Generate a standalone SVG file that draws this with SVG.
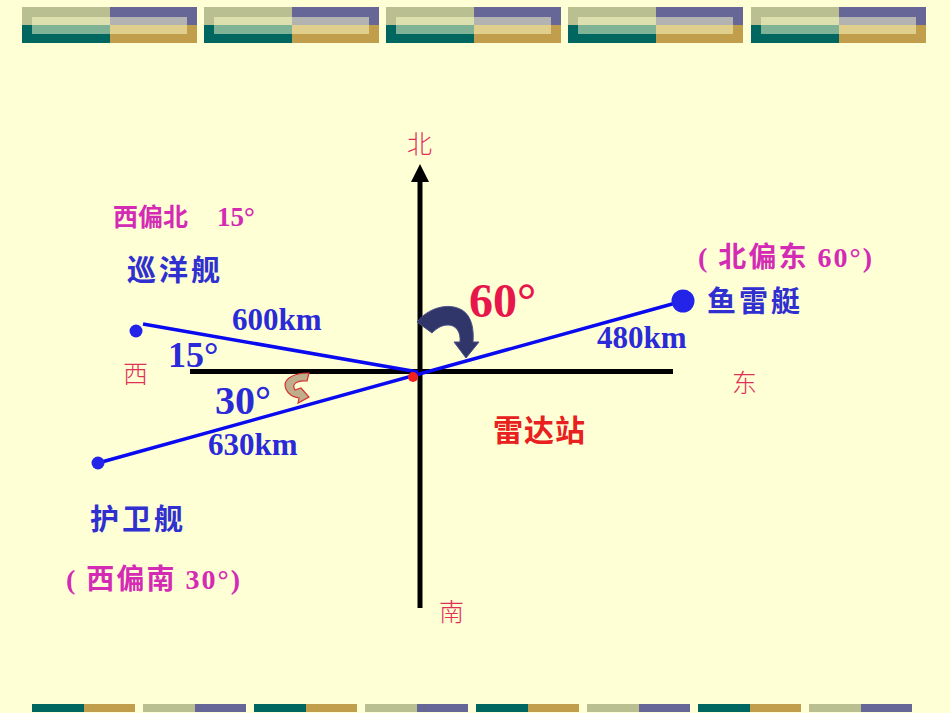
<svg xmlns="http://www.w3.org/2000/svg" width="950" height="713" viewBox="0 0 950 713">
<defs>
<style>
.cjk{font-family:"Liberation Serif","Noto Sans CJK SC",serif;}
.dir{font-family:"Noto Sans CJK SC",sans-serif;fill:#E0305A;font-size:25px;font-weight:300;}
.mag{fill:#D42BB5;font-weight:bold;}
.blu{fill:#3030D0;font-weight:bold;}
.num{font-family:"Liberation Serif",serif;font-weight:bold;fill:#2A2AD8;}
.ax{stroke:#000;fill:none;}
.ln{stroke:#0A0AF0;stroke-width:3.5;fill:none;}
.dot{fill:#2424E8;}
</style>
<g id="topblock">
<rect x="0" y="0" width="88" height="18" fill="#B9BF91"/>
<rect x="88" y="0" width="87" height="18" fill="#676797"/>
<rect x="0" y="18" width="88" height="18" fill="#006660"/>
<rect x="88" y="18" width="87" height="18" fill="#C19E4C"/>
<rect x="10" y="10" width="155" height="17" fill="#FFFFCC" opacity="0.5"/>
</g>
</defs>
<rect width="950" height="713" fill="#FFFFD6"/>
<g id="banner-top">
<use href="#topblock" x="22" y="7"/>
<use href="#topblock" x="204" y="7"/>
<use href="#topblock" x="386" y="7"/>
<use href="#topblock" x="568" y="7"/>
<use href="#topblock" x="751" y="7"/>
</g>
<g id="banner-bottom">
<rect x="32" y="704" width="52" height="8" fill="#006660"/><rect x="84" y="704" width="51" height="8" fill="#C19E4C"/>
<rect x="143" y="704" width="52" height="8" fill="#B9BF91"/><rect x="195" y="704" width="51" height="8" fill="#676797"/>
<rect x="254" y="704" width="52" height="8" fill="#006660"/><rect x="306" y="704" width="51" height="8" fill="#C19E4C"/>
<rect x="365" y="704" width="52" height="8" fill="#B9BF91"/><rect x="417" y="704" width="51" height="8" fill="#676797"/>
<rect x="476" y="704" width="52" height="8" fill="#006660"/><rect x="528" y="704" width="51" height="8" fill="#C19E4C"/>
<rect x="587" y="704" width="52" height="8" fill="#B9BF91"/><rect x="639" y="704" width="51" height="8" fill="#676797"/>
<rect x="698" y="704" width="52" height="8" fill="#006660"/><rect x="750" y="704" width="51" height="8" fill="#C19E4C"/>
<rect x="809" y="704" width="52" height="8" fill="#B9BF91"/><rect x="861" y="704" width="51" height="8" fill="#676797"/>
</g>
<g id="axes">
<line class="ax" x1="420" y1="180" x2="420" y2="608" stroke-width="5"/>
<polygon points="420,164 411,182 429,182" fill="#000"/>
<line class="ax" x1="190" y1="371.5" x2="673" y2="371.5" stroke-width="5"/>
</g>
<g id="connectors">
<line class="ln" x1="143" y1="324" x2="418" y2="372"/>
<line class="ln" x1="98" y1="463" x2="683" y2="301"/>
</g>
<g id="cruiser"><circle class="dot" cx="136" cy="331" r="6.5"/></g>
<g id="frigate"><circle class="dot" cx="98" cy="463" r="6.5"/></g>
<g id="torpedo"><circle class="dot" cx="683" cy="301" r="11.5"/></g>
<g id="radar"><circle cx="413" cy="377" r="5" fill="#EE2020"/></g>
<g id="arrow60">
<path d="M417,322 C428,308 448,302 462,310 C472,316 474,330 473,342 L479,342 L466,358 L454,342 L460,342 C461,332 456,325 448,325 C441,325 436,329 432,333 Z" fill="#30366A" stroke="#4A5088" stroke-width="1"/>
</g>
<g id="arrow30">
<path d="M309,373 L307,381 C297,380 291,384 295,390 L301,388 L309,397 L298,403 L299,398 C286,396 281,384 289,378 C294,374 302,373 309,373 Z" fill="#BFAE8C" stroke="#D83030" stroke-width="1.2"/>
</g>
<g id="labels">
<text class="dir" x="407" y="153">北</text>
<text class="dir" x="439" y="621">南</text>
<text class="dir" x="123" y="383">西</text>
<text class="dir" x="732" y="392">东</text>
<text class="cjk mag" x="113" y="226" font-size="25">西偏北<tspan x="217" font-size="27">15°</tspan></text>
<text class="cjk blu" x="127" y="281" font-size="29" textLength="93" lengthAdjust="spacing">巡洋舰</text>
<text class="num" x="232" y="330" font-size="31">600km</text>
<text class="num" x="168" y="367" font-size="36">15°</text>
<text class="num" x="215" y="414" font-size="40">30°</text>
<text class="num" x="208" y="455" font-size="31">630km</text>
<text class="cjk blu" x="90" y="530" font-size="29" textLength="93" lengthAdjust="spacing">护卫舰</text>
<text class="cjk mag" x="66" y="589" font-size="28" textLength="174" lengthAdjust="spacing">( 西偏南 30°)</text>
<text x="469" y="317" font-family="Liberation Serif,serif" font-weight="bold" font-size="48" fill="#E8174B">60°</text>
<text class="cjk mag" x="698" y="267" font-size="28" textLength="174" lengthAdjust="spacing">( 北偏东 60°)</text>
<text class="cjk blu" x="707" y="312" font-size="29" textLength="93" lengthAdjust="spacing">鱼雷艇</text>
<text class="num" x="597" y="348" font-size="31">480km</text>
<text class="cjk" x="493" y="441" font-size="30" fill="#E82020" font-weight="bold" textLength="92" lengthAdjust="spacing">雷达站</text>
</g>
</svg>
